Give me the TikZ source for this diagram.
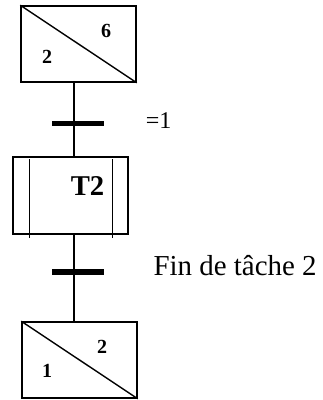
\documentclass[tikz,border=0pt]{standalone}
\usepackage{fontspec}
\setmainfont{Liberation Serif}
\usetikzlibrary{positioning,calc}
\tikzset{
  etape/.style={draw,line width=1.15pt,minimum width=86.25pt,minimum height=57pt,inner sep=0pt},
  num/.style={font=\fontsize{15}{17}\selectfont\bfseries,inner sep=0pt},
  barre/.style={fill=black,minimum width=39pt,minimum height=4.4pt,inner sep=0pt},
  recept/.style={inner sep=0pt},
  lien/.style={line width=1.2pt},
  trait/.style={line width=1.05pt}
}

\begin{document}
\begin{tikzpicture}[x=0.75pt,y=-0.75pt]
\useasboundingbox (0,0) rectangle (323,400);
% etapes
\node[etape] (e6) at (78.5,44) {};
\node[etape,minimum height=57.75pt] (tache) at (70.5,195.5) {};
\node[etape] (e1) at (79.5,360) {};
% transitions
\node[barre] (t1) at (78,123.5) {};
\node[barre] (t2) at (78,272) {};
\coordinate (axe) at (74,0);
% liaisons
\draw[lien] (e6.south -| axe) -- (tache.north -| axe);
\draw[lien] (tache.south -| axe) -- (e1.north -| axe);
% etapes en diagonale
\draw[trait] (e6.north west) -- (e6.south east);
\draw[trait] (e1.north west) -- (e1.south east);
\node[num] (n6) at ($(e6.center)+(27.5,-13)$) {6};
\node[num] (n2) at ($(e6.center)+(-31.5,13)$) {2};
\node[num] (m2) at ($(e1.center)+(22.5,-13)$) {2};
\node[num] (m1) at ($(e1.center)+(-32.5,11)$) {1};
% macro-etape / tache
\draw[trait] ($(tache.north west)+(17,3)$) -- ($(tache.south west)+(17,3)$);
\draw[trait] ($(tache.north east)+(-16,3)$) -- ($(tache.south east)+(-16,3)$);
\node[num,font=\fontsize{21.5}{23}\selectfont\bfseries] (nomT) at ($(tache.center)+(17,-9.5)$) {T2};
% receptivites
\node[recept,font=\fontsize{18}{20}\selectfont,right=31pt of t1,yshift=1.9pt] (r1) {=1};
\node[recept,font=\fontsize{21.7}{24}\selectfont,right=36.75pt of t2,yshift=4.9pt] (r2) {Fin de tâche 2};
\end{tikzpicture}
\end{document}
